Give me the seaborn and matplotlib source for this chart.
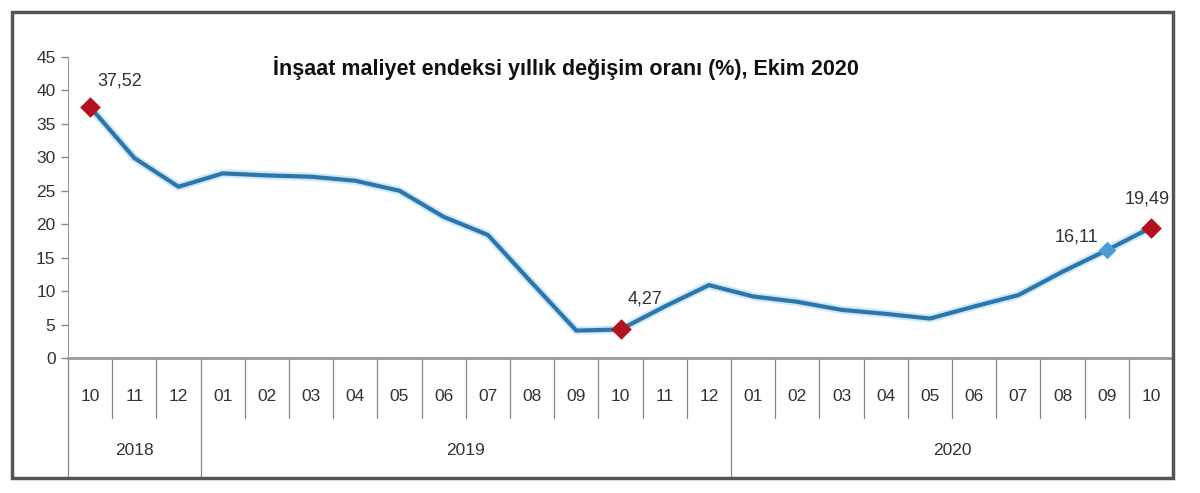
import numpy as np
import pandas as pd
import matplotlib
matplotlib.use("Agg")
import matplotlib.pyplot as plt
import matplotlib.transforms as mtransforms
from matplotlib.patches import Rectangle
import seaborn as sns

# veriler
aylar = ["10", "11", "12", "01", "02", "03", "04", "05", "06", "07", "08", "09",
         "10", "11", "12", "01", "02", "03", "04", "05", "06", "07", "08", "09", "10"]
yillar = ["2018"] * 3 + ["2019"] * 12 + ["2020"] * 10
degisim = [37.52, 29.9, 25.6, 27.6, 27.3, 27.1, 26.5, 25.0, 21.1, 18.4, 11.2, 4.1,
           4.27, 7.7, 10.9, 9.2, 8.4, 7.2, 6.6, 5.9, 7.7, 9.4, 12.9, 16.11, 19.49]
kirmizi_idx = [0, 12, 24]
mavi_idx = [23]
etiket_idx = [0, 12, 23, 24]
etiket_offset = {0: (30, 18), 12: (24, 22), 23: (-30, 5), 24: (-4, 20)}

df = pd.DataFrame({"ay": aylar, "yil": yillar, "deger": degisim})
df["x"] = np.arange(len(df))

sns.set_style("white")
plt.rcParams["font.family"] = ["Liberation Sans", "DejaVu Sans"]

fig = plt.figure(figsize=(12, 4.93), dpi=100)
ax = fig.add_axes([0.0567, 0.2738, 0.9208, 0.6106])

# hafif parlama + ana cizgi
sns.lineplot(data=df, x="x", y="deger", ax=ax, color="#cfe9f7", linewidth=6, zorder=2)
sns.lineplot(data=df, x="x", y="deger", ax=ax, color="#2c76ab", linewidth=3, zorder=3)

kir = df.iloc[kirmizi_idx]
mav = df.iloc[mavi_idx]
ax.scatter(kir["x"], kir["deger"], marker="D", s=110, color="#b3111f", zorder=5, linewidths=0)
ax.scatter(mav["x"], mav["deger"], marker="D", s=80, color="#4c9bdb", zorder=5, linewidths=0)

for i in etiket_idx:
    txt = f"{degisim[i]:.2f}".replace(".", ",")
    ax.annotate(txt, (df["x"][i], degisim[i]), xytext=etiket_offset[i],
                textcoords="offset pixels", ha="center", va="bottom",
                fontsize=13, color="#333333")

ax.set_xlim(-0.5, len(df) - 0.5)
ax.set_ylim(0, 45)
ax.set_yticks(range(0, 46, 5))
ax.set_xticks(df["x"])
ax.set_xticklabels(aylar)
ax.tick_params(axis="x", length=0, pad=22, labelsize=12.5, colors="#333333")
ax.tick_params(axis="y", length=5, width=1, color="#888888", labelsize=12.5,
               labelcolor="#333333", left=True, pad=4)
ax.set_xlabel("")
ax.set_ylabel("")
sns.despine(ax=ax)
ax.spines["left"].set_color("#999999")
ax.spines["bottom"].set_color("#999999")
ax.spines["bottom"].set_linewidth(2)

# iki seviyeli x ekseni
trans = mtransforms.blended_transform_factory(ax.transData, ax.transAxes)
yil_sinir = [0] + [k for k in range(1, len(yillar)) if yillar[k] != yillar[k - 1]]
for k in range(len(aylar)):
    alt = -0.395 if k in yil_sinir else -0.199
    ax.plot([k - 0.5, k - 0.5], [0, alt], transform=trans, color="#888888",
            linewidth=0.9, clip_on=False)
for y in ["2018", "2019", "2020"]:
    xs = df.loc[df["yil"] == y, "x"]
    ax.text(xs.mean(), -0.306, y, transform=trans, ha="center", va="center",
            fontsize=12.5, color="#333333")

ax.text(0.451, 0.962, "İnşaat maliyet endeksi yıllık değişim oranı (%), Ekim 2020",
        transform=ax.transAxes, ha="center", va="center", fontsize=15.5,
        fontweight="bold", color="#111111")

fig.patches.append(Rectangle((12 / 1200, 1 - 478 / 493), 1161 / 1200, 466 / 493,
                             transform=fig.transFigure, fill=False,
                             edgecolor="#555555", linewidth=2.5))

fig.savefig("out.png", dpi=100)
